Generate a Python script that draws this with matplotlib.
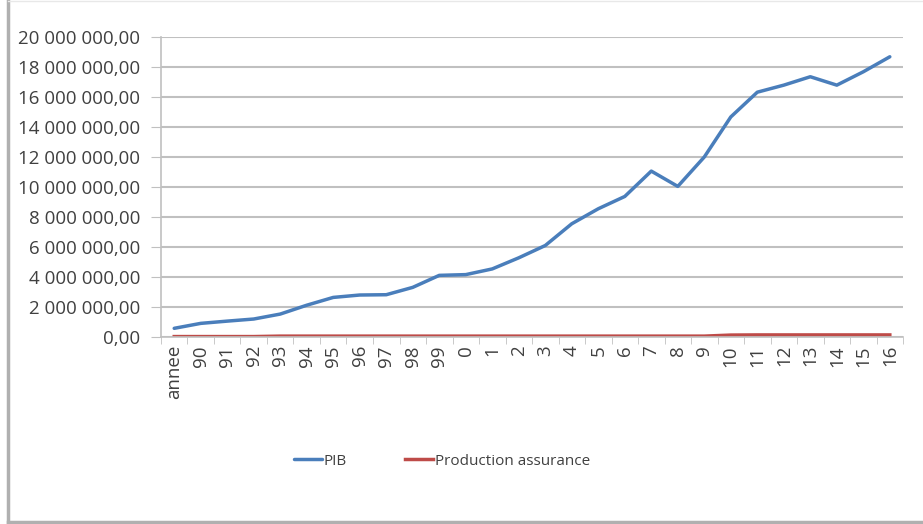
import numpy as np
import matplotlib.pyplot as plt
from matplotlib.ticker import FuncFormatter, FixedLocator

plt.rcParams['font.family'] = ['Open Sans', 'DejaVu Sans']

labels = ['annee', '90', '91', '92', '93', '94', '95', '96', '97', '98', '99',
          '0', '1', '2', '3', '4', '5', '6', '7', '8', '9',
          '10', '11', '12', '13', '14', '15', '16']

pib = [560000, 890000, 1040000, 1180000, 1510000, 2100000, 2620000, 2780000,
       2800000, 3290000, 4090000, 4140000, 4520000, 5260000, 6080000, 7530000,
       8530000, 9350000, 11040000, 10020000, 11980000, 14650000, 16300000,
       16770000, 17330000, 16770000, 17660000, 18660000]

prod_assurance = [10000, 10000, 10000, 10000, 40000, 40000, 40000, 40000,
                  40000, 40000, 40000, 40000, 40000, 40000, 40000, 40000,
                  40000, 40000, 40000, 40000, 40000, 110000, 120000, 120000,
                  120000, 120000, 120000, 120000]

fig = plt.figure(figsize=(9.23, 5.24), dpi=100)
ax = fig.add_axes([0.1744, 0.3574, 0.804, 0.5726])

x = np.arange(len(labels))
ax.plot(x, pib, color='#4a7ebb', lw=2.5, label='PIB', solid_capstyle='round')
ax.plot(x, prod_assurance, color='#be4b48', lw=2.5, label='Production assurance')

ax.set_xlim(-0.5, len(labels) - 0.5)
ax.set_ylim(0, 20000000)
ax.set_yticks(np.arange(0, 20000001, 2000000))

def fr_fmt(v, pos):
    s = '{:,.2f}'.format(v)
    return s.replace(',', ' ').replace('.', ',')

ax.yaxis.set_major_formatter(FuncFormatter(fr_fmt))
ax.set_xticks(x)
ax.set_xticklabels(labels, rotation=90, va='top')
ax.xaxis.set_minor_locator(FixedLocator(np.arange(-0.5, len(labels), 1)))

ax.grid(axis='y', color='#c0c0c0', lw=1.5)
ax.set_axisbelow(True)
for side in ['top', 'right']:
    ax.spines[side].set_visible(False)
ax.spines['left'].set_color('#c0c0c0')
ax.spines['bottom'].set_color('#c0c0c0')
ax.spines['left'].set_linewidth(1.2)
ax.spines['bottom'].set_linewidth(1.2)

ax.tick_params(axis='y', length=7, color='#c0c0c0', labelsize=13.5, labelcolor='#404040', pad=8)
ax.tick_params(axis='x', which='major', length=0, labelsize=13.5, labelcolor='#404040', pad=6)
ax.tick_params(axis='x', which='minor', length=5, color='#c0c0c0')

leg = fig.legend(loc='center', bbox_to_anchor=(0.479, 0.12), ncol=2, frameon=False,
                 fontsize=11, handlelength=1.8, handletextpad=0.15, columnspacing=3.8)
for t in leg.get_texts():
    t.set_color('#404040')

# outer frame of the chart box
fig.add_artist(plt.Line2D([0.0087, 0.0087], [0.003, 0.999], color='#b0b0b0', lw=2.5))
fig.add_artist(plt.Line2D([0.0087, 1.0], [0.004, 0.004], color='#b0b0b0', lw=2.5))
fig.add_artist(plt.Line2D([0.0087, 1.0], [0.998, 0.998], color='#e8e8e8', lw=1))

fig.savefig('out.png', dpi=100)
